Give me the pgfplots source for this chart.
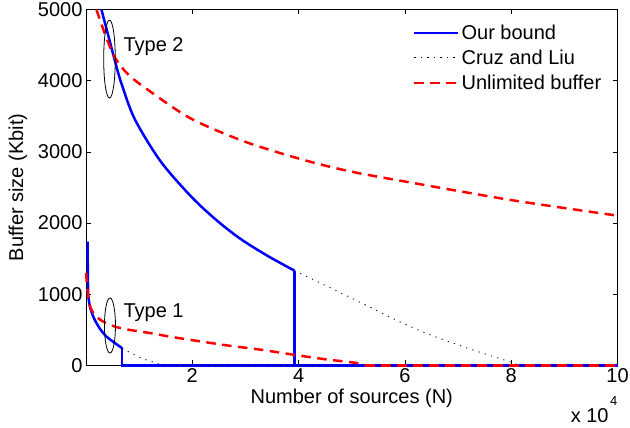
\documentclass[border=0pt]{standalone}
\usepackage{fontspec}
\setmainfont{Liberation Sans}
\usepackage{pgfplots}
\pgfplotsset{compat=1.18}
\newcommand\ff{\fontsize{20bp}{24bp}\selectfont}
\begin{document}
\begin{tikzpicture}[font=\ff]
\begin{axis}[
  scale only axis, width=531.5bp, height=355.8bp,
  xmin=0, xmax=100000, ymin=0, ymax=5000,
  xtick={20000,40000,60000,80000,100000},
  xticklabels={2,4,6,8,10},
  ytick={0,1000,2000,3000,4000,5000},
  yticklabel style={/pgf/number format/1000 sep={}},
  /pgf/number format/assume math mode=true,
  scaled x ticks=false, scaled y ticks=false,
  tick align=inside, tick pos=both,
  major tick length=5bp, minor tick num=0,
  axis line style={line width=0.6bp},
  every tick/.style={line width=0.6bp, black},
  clip=false,
  xlabel={Number of sources (N)},
  ylabel={Buffer size (Kbit)},
  xlabel style={at={(axis description cs:0.5,0)}, anchor=north, yshift=-24bp, inner sep=0pt},
  ylabel style={at={(axis description cs:-0.128,0.5)}, anchor=center, inner sep=0pt},
  legend style={at={(axis description cs:0.615,0.97)}, anchor=north west, draw=none, fill=none,
    inner sep=0pt, row sep=0pt, font=\ff,
    nodes={inner sep=2bp, text height=17bp, text depth=4bp}},
  legend cell align=left,
  legend image code/.code={\draw[#1] (0bp,0bp) -- (44bp,0bp);},
]
% Type 2
\addplot[blue, line width=2.5bp, smooth, tension=0.5] coordinates {
 (2900,5000) (4170,4640) (5400,4290) (6670,3960) (9170,3460) (14000,2870)
 (19800,2370) (24500,2043) (29000,1780) (34000,1545) (39200,1331)};
\addlegendentry{Our bound}
\addplot[black, line width=0.8bp, dash pattern=on 1.2bp off 5.3bp, smooth, tension=0.5] coordinates {
 (39200,1331) (45500,1106) (52000,870) (58000,648) (64000,450) (70500,274) (75500,150) (79900,45) (81500,0)};
\addlegendentry{Cruz and Liu}
\addplot[red, line width=2.5bp, dash pattern=on 9.5bp off 6.5bp, smooth, tension=0.5] coordinates {
 (1970,5000) (3530,4664) (5400,4330) (7900,4090) (11700,3868) (19800,3465)
 (30000,3140) (41000,2885) (50000,2720) (60000,2583) (70000,2450) (79900,2323) (90000,2210) (100000,2103)};
\addlegendentry{Unlimited buffer}
\addplot[blue, line width=2.5bp, forget plot] coordinates {(39200,1331) (39200,0) (100000,0)};
\addplot[black, line width=0.8bp, dash pattern=on 1.2bp off 5.3bp, forget plot] coordinates {(81500,0) (100000,0)};
% Type 1
\addplot[blue, line width=2.5bp, forget plot, smooth, tension=0.5] coordinates {
 (300,1738) (350,1300) (450,966) (900,780) (1650,639) (2700,505) (3850,404) (5300,320) (6800,241)};
\addplot[blue, line width=2.5bp, forget plot] coordinates {(6800,241) (6800,0) (100000,0)};
\addplot[black, line width=0.8bp, dash pattern=on 1.2bp off 5.3bp, forget plot, smooth, tension=0.5] coordinates {
 (6800,241) (7900,194) (10000,115) (12300,53) (14500,0)};
\addplot[black, line width=0.8bp, dash pattern=on 1.2bp off 5.3bp, forget plot] coordinates {(14500,0) (100000,0)};
\addplot[red, line width=2.5bp, dash pattern=on 9.5bp off 6.5bp, forget plot, smooth, tension=0.5] coordinates {
 (0,1300) (300,1050) (600,880) (1030,779) (2000,680) (3230,615) (5400,545) (8000,500) (12300,450)
 (16000,400) (21700,334) (27000,275) (33000,218) (39200,147) (45000,85) (51100,31) (52500,0)};
\addplot[red, line width=2.5bp, dash pattern=on 9.5bp off 6.5bp, forget plot] coordinates {(52500,0) (100000,0)};
% annotations
\draw[line width=0.8bp] (axis cs:4420,4303) ellipse [x radius=5.8bp, y radius=39bp];
\node[anchor=west, inner sep=0pt] at (axis cs:7020,4476) {Type 2};
\draw[line width=0.8bp] (axis cs:4510,559) ellipse [x radius=5.5bp, y radius=27.5bp];
\node[anchor=west, inner sep=0pt] at (axis cs:7020,742) {Type 1};
\node[anchor=base east, inner sep=0pt] at ([yshift=-56.7bp]rel axis cs:1,0) {x 10\kern1.5bp\raisebox{17bp}{\fontsize{13bp}{15bp}\selectfont 4}};
\end{axis}
\pgfresetboundingbox
\useasboundingbox (current axis.south west) ++(-86bp,-62.7bp) rectangle ++(630bp,428bp);
\end{tikzpicture}
\end{document}
